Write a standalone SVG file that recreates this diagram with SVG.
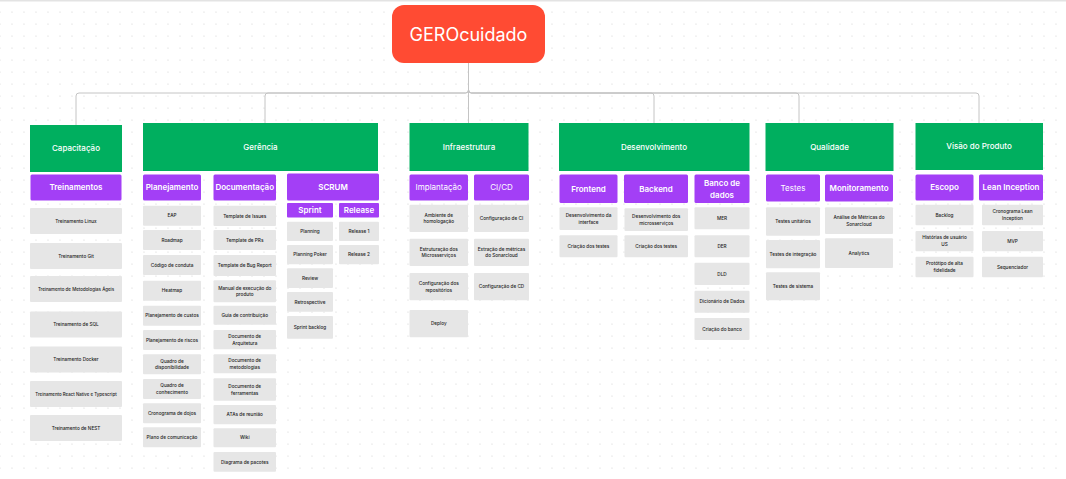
<svg xmlns="http://www.w3.org/2000/svg" width="1066" height="479" viewBox="0 0 1066 479">
<style>
text{font-family:Inter,"Noto Sans","Liberation Sans",sans-serif;text-anchor:middle}
.root{fill:#FF4B33}
.g{fill:#00AF5F}
.p{fill:#A33FF6}
.i{fill:#E6E6E6}
.tr{font-size:18px;fill:#fff;font-weight:400}
.tg{font-size:8px;fill:#fff;font-weight:500}
.tp{font-size:8px;fill:#fff;font-weight:600}
.tp4{font-size:8px;fill:#fff;font-weight:400}
.ti{font-size:4.7px;fill:#222;font-weight:500}
.c{fill:none;stroke:#c4c4c4;stroke-width:1}
</style>
<defs>
<pattern id="dots" x="-6" y="-6" width="12" height="12" patternUnits="userSpaceOnUse">
<circle cx="6" cy="6" r="0.6" fill="#cfcfcf"/>
</pattern>
</defs>
<rect width="1066" height="479" fill="#fff"/>
<rect width="1066" height="479" fill="url(#dots)"/>
<rect width="1066" height="1.5" fill="#e3e3e3"/>

<g id="connectors">
<path class="c" d="M468.5,63 V123"/>
<path class="c" d="M468.5,63 V90 Q468.5,93 465.5,93 H79 Q76,93 76,96 V125"/>
<path class="c" d="M468.5,63 V90 Q468.5,93 465.5,93 H268 Q265,93 265,96 V123"/>
<path class="c" d="M468.5,63 V90 Q468.5,93 471.5,93 H651 Q654,93 654,96 V123"/>
<path class="c" d="M468.5,63 V90 Q468.5,93 471.5,93 H796 Q799,93 799,96 V123"/>
<path class="c" d="M468.5,63 V90 Q468.5,93 471.5,93 H976 Q979,93 979,96 V123"/>
</g>

<g id="root"><rect class="root" x="392" y="5" width="153" height="58" rx="12"/><text class="tr" x="468.5" y="40.5">GEROcuidado</text></g>

<!-- Capacitação -->
<g id="capacitacao"><rect class="g" x="30" y="125" width="92" height="47"/><text class="tg" x="76" y="151.3">Capacitação</text></g>
<g id="treinamentos"><rect class="p" x="30.5" y="174.5" width="91" height="26" rx="1.5"/><text class="tp" x="76" y="190.3">Treinamentos</text></g>
<g id="cap-1"><rect class="i" x="30" y="208" width="92" height="26" rx="1"/><text class="ti" x="76" y="222.65">Treinamento Linux</text></g>
<g id="cap-2"><rect class="i" x="30" y="243" width="92" height="26" rx="1"/><text class="ti" x="76" y="257.65">Treinamento Git</text></g>
<g id="cap-3"><rect class="i" x="30" y="276" width="92" height="26" rx="1"/><text class="ti" x="76" y="290.65" style="font-size:4.45px">Treinamento de Metodologias Ágeis</text></g>
<g id="cap-4"><rect class="i" x="30" y="311.5" width="92" height="26" rx="1"/><text class="ti" x="76" y="326.15">Treinamento de SQL</text></g>
<g id="cap-5"><rect class="i" x="30" y="346.5" width="92" height="26" rx="1"/><text class="ti" x="76" y="361.15">Treinamento Docker</text></g>
<g id="cap-6"><rect class="i" x="30" y="381" width="92" height="26" rx="1"/><text class="ti" x="76" y="395.65" style="font-size:4.4px">Treinamento React Native e Typescript</text></g>
<g id="cap-7"><rect class="i" x="30" y="415" width="92" height="26" rx="1"/><text class="ti" x="76" y="429.65">Treinamento de NEST</text></g>

<!-- Gerência -->
<g id="gerencia"><rect class="g" x="143" y="123" width="235" height="48"/><text class="tg" x="260.5" y="149.8">Gerência</text></g>
<g id="planejamento"><rect class="p" x="143" y="174.5" width="58" height="26" rx="1.5"/><text class="tp" x="172" y="190.3">Planejamento</text></g>
<g id="pl-1"><rect class="i" x="143" y="205.7" width="58" height="20" rx="1"/><text class="ti" x="172" y="217.35">EAP</text></g>
<g id="pl-2"><rect class="i" x="143" y="230" width="58" height="20" rx="1"/><text class="ti" x="172" y="241.65">Roadmap</text></g>
<g id="pl-3"><rect class="i" x="143" y="255" width="58" height="20" rx="1"/><text class="ti" x="172" y="266.65">Código de conduta</text></g>
<g id="pl-4"><rect class="i" x="143" y="280.7" width="58" height="20" rx="1"/><text class="ti" x="172" y="292.35">Heatmap</text></g>
<g id="pl-5"><rect class="i" x="143" y="305.7" width="58" height="20" rx="1"/><text class="ti" x="172" y="317.35">Planejamento de custos</text></g>
<g id="pl-6"><rect class="i" x="143" y="330" width="58" height="20" rx="1"/><text class="ti" x="172" y="341.65">Planejamento de riscos</text></g>
<g id="pl-7"><rect class="i" x="143" y="354.3" width="58" height="20" rx="1"/><text class="ti" x="172" y="362.6">Quadro de<tspan x="172" y="369.3">disponibilidade</tspan></text></g>
<g id="pl-8"><rect class="i" x="143" y="379" width="58" height="20" rx="1"/><text class="ti" x="172" y="387.3">Quadro de<tspan x="172" y="394">conhecimento</tspan></text></g>
<g id="pl-9"><rect class="i" x="143" y="403.3" width="58" height="20" rx="1"/><text class="ti" x="172" y="414.95">Cronograma de dojos</text></g>
<g id="pl-10"><rect class="i" x="143" y="427.3" width="58" height="20" rx="1"/><text class="ti" x="172" y="438.95">Plano de comunicação</text></g>

<g id="documentacao"><rect class="p" x="213.5" y="174.5" width="62.5" height="26" rx="1.5"/><text class="tp" x="244.75" y="190.3">Documentação</text></g>
<g id="doc-1"><rect class="i" x="213.5" y="205.7" width="62.5" height="20.3" rx="1"/><text class="ti" x="244.75" y="217.5">Template de Issues</text></g>
<g id="doc-2"><rect class="i" x="213.5" y="230" width="62.5" height="20" rx="1"/><text class="ti" x="244.75" y="241.65">Template de PRs</text></g>
<g id="doc-3"><rect class="i" x="213.5" y="255" width="62.5" height="21" rx="1"/><text class="ti" x="244.75" y="267.15">Template de Bug Report</text></g>
<g id="doc-4"><rect class="i" x="213.5" y="280.3" width="62.5" height="22" rx="1"/><text class="ti" x="244.75" y="289.6">Manual de execução do<tspan x="244.75" y="296.3">produto</tspan></text></g>
<g id="doc-5"><rect class="i" x="213.5" y="305.7" width="62.5" height="19" rx="1"/><text class="ti" x="244.75" y="316.85">Guia de contribuição</text></g>
<g id="doc-6"><rect class="i" x="213.5" y="330" width="62.5" height="19.3" rx="1"/><text class="ti" x="244.75" y="337.95">Documento de<tspan x="244.75" y="344.65">Arquitetura</tspan></text></g>
<g id="doc-7"><rect class="i" x="213.5" y="354.3" width="62.5" height="19" rx="1"/><text class="ti" x="244.75" y="362.1">Documento de<tspan x="244.75" y="368.8">metodologias</tspan></text></g>
<g id="doc-8"><rect class="i" x="213.5" y="378.3" width="62.5" height="22.4" rx="1"/><text class="ti" x="244.75" y="387.8">Documento de<tspan x="244.75" y="394.5">ferramentas</tspan></text></g>
<g id="doc-9"><rect class="i" x="213.5" y="405" width="62.5" height="19.3" rx="1"/><text class="ti" x="244.75" y="416.3">ATAs de reunião</text></g>
<g id="doc-10"><rect class="i" x="213.5" y="428.3" width="62.5" height="19" rx="1"/><text class="ti" x="244.75" y="439.45">Wiki</text></g>
<g id="doc-11"><rect class="i" x="213.5" y="452" width="62.5" height="19.7" rx="1"/><text class="ti" x="244.75" y="463.5">Diagrama de pacotes</text></g>

<g id="scrum"><rect class="p" x="287" y="173.5" width="92" height="27" rx="1.5"/><text class="tp" x="333" y="189.8">SCRUM</text></g>
<g id="sprint"><rect class="p" x="287" y="203" width="46" height="14.5" rx="1"/><text class="tp" x="310" y="213">Sprint</text></g>
<g id="release"><rect class="p" x="339" y="203" width="40" height="14.5" rx="1"/><text class="tp" x="359" y="213">Release</text></g>
<g id="sp-1"><rect class="i" x="287" y="221.7" width="46" height="19.3" rx="1"/><text class="ti" x="310" y="233">Planning</text></g>
<g id="sp-2"><rect class="i" x="287" y="245" width="46" height="19.3" rx="1"/><text class="ti" x="310" y="256.3">Planning Poker</text></g>
<g id="sp-3"><rect class="i" x="287" y="268.3" width="46" height="19.7" rx="1"/><text class="ti" x="310" y="279.8">Review</text></g>
<g id="sp-4"><rect class="i" x="287" y="292" width="46" height="19.7" rx="1"/><text class="ti" x="310" y="303.5">Retrospective</text></g>
<g id="sp-5"><rect class="i" x="287" y="316" width="46" height="22.7" rx="1"/><text class="ti" x="310" y="329">Sprint backlog</text></g>
<g id="rel-1"><rect class="i" x="339" y="221.7" width="40" height="19.3" rx="1"/><text class="ti" x="359" y="233">Release 1</text></g>
<g id="rel-2"><rect class="i" x="339" y="245" width="40" height="19.3" rx="1"/><text class="ti" x="359" y="256.3">Release 2</text></g>

<!-- Infraestrutura -->
<g id="infraestrutura"><rect class="g" x="409.5" y="123" width="119" height="48"/><text class="tg" x="469" y="149.8">Infraestrutura</text></g>
<g id="implantacao"><rect class="p" x="409.5" y="174.5" width="58.5" height="26" rx="1.5"/><text class="tp4" x="438.75" y="190.3">Implantação</text></g>
<g id="cicd"><rect class="p" x="474" y="174.5" width="55" height="26" rx="1.5"/><text class="tp4" x="501.5" y="190.3">CI/CD</text></g>
<g id="imp-1"><rect class="i" x="409.5" y="204.7" width="58.5" height="27.3" rx="1"/><text class="ti" x="438.75" y="216.65">Ambiente de<tspan x="438.75" y="223.35">homologação</tspan></text></g>
<g id="imp-2"><rect class="i" x="409.5" y="238.7" width="58.5" height="27.3" rx="1"/><text class="ti" x="438.75" y="250.65">Estruturação dos<tspan x="438.75" y="257.35">Microsserviços</tspan></text></g>
<g id="imp-3"><rect class="i" x="409.5" y="273" width="58.5" height="27.3" rx="1"/><text class="ti" x="438.75" y="284.95">Configuração dos<tspan x="438.75" y="291.65">repositórios</tspan></text></g>
<g id="imp-4"><rect class="i" x="409.5" y="310" width="58.5" height="27.3" rx="1"/><text class="ti" x="438.75" y="325.3">Deploy</text></g>
<g id="ci-1"><rect class="i" x="474" y="204.7" width="55" height="27.3" rx="1"/><text class="ti" x="501.5" y="220">Configuração de CI</text></g>
<g id="ci-2"><rect class="i" x="474" y="238.7" width="55" height="27.3" rx="1"/><text class="ti" x="501.5" y="250.65">Extração de métricas<tspan x="501.5" y="257.35">do Sonarcloud</tspan></text></g>
<g id="ci-3"><rect class="i" x="474" y="273" width="55" height="27.3" rx="1"/><text class="ti" x="501.5" y="288.3">Configuração de CD</text></g>

<!-- Desenvolvimento -->
<g id="desenvolvimento"><rect class="g" x="559" y="123" width="190.5" height="48"/><text class="tg" x="654" y="149.8">Desenvolvimento</text></g>
<g id="frontend"><rect class="p" x="559.5" y="174.5" width="58" height="28.5" rx="1.5"/><text class="tp" x="588.5" y="191.5">Frontend</text></g>
<g id="backend"><rect class="p" x="624" y="174.5" width="64" height="28.5" rx="1.5"/><text class="tp" x="656" y="191.5">Backend</text></g>
<g id="banco"><rect class="p" x="694.5" y="174.5" width="55" height="28.5" rx="1.5"/><text class="tp" x="722" y="186.1">Banco de<tspan x="722" y="197.8">dados</tspan></text></g>
<g id="fe-1"><rect class="i" x="559.5" y="207.3" width="58" height="22.7" rx="1"/><text class="ti" x="588.5" y="216.95">Desenvolvimento da<tspan x="588.5" y="223.65">interface</tspan></text></g>
<g id="fe-2"><rect class="i" x="559.5" y="235.3" width="58" height="22" rx="1"/><text class="ti" x="588.5" y="247.95">Criação dos testes</text></g>
<g id="be-1"><rect class="i" x="624.5" y="208.3" width="63.5" height="22.7" rx="1"/><text class="ti" x="656.25" y="217.95">Desenvolvimento dos<tspan x="656.25" y="224.65">microsserviços</tspan></text></g>
<g id="be-2"><rect class="i" x="624.5" y="235.3" width="63.5" height="22" rx="1"/><text class="ti" x="656.25" y="247.95">Criação dos testes</text></g>
<g id="db-1"><rect class="i" x="694.5" y="207.3" width="55" height="22" rx="1"/><text class="ti" x="722" y="219.95">MER</text></g>
<g id="db-2"><rect class="i" x="694.5" y="235.3" width="55" height="22" rx="1"/><text class="ti" x="722" y="247.95">DER</text></g>
<g id="db-3"><rect class="i" x="694.5" y="262.7" width="55" height="22.3" rx="1"/><text class="ti" x="722" y="275.5">DLD</text></g>
<g id="db-4"><rect class="i" x="694.5" y="290.7" width="55" height="22" rx="1"/><text class="ti" x="722" y="303.35">Dicionário de Dados</text></g>
<g id="db-5"><rect class="i" x="694.5" y="318" width="55" height="22" rx="1"/><text class="ti" x="722" y="330.65">Criação do banco</text></g>

<!-- Qualidade -->
<g id="qualidade"><rect class="g" x="765.5" y="123" width="128" height="48"/><text class="tg" x="829.5" y="149.8">Qualidade</text></g>
<g id="testes"><rect class="p" x="766" y="174.5" width="54" height="27" rx="1.5"/><text class="tp4" x="793" y="190.8">Testes</text></g>
<g id="monitoramento"><rect class="p" x="825" y="174.5" width="68" height="27" rx="1.5"/><text class="tp" x="859" y="190.8">Monitoramento</text></g>
<g id="te-1"><rect class="i" x="766" y="207.3" width="54" height="28.4" rx="1"/><text class="ti" x="793" y="223.15">Testes unitários</text></g>
<g id="te-2"><rect class="i" x="766" y="240" width="54" height="28.3" rx="1"/><text class="ti" x="793" y="255.8">Testes de integração</text></g>
<g id="te-3"><rect class="i" x="766" y="272.3" width="54" height="28" rx="1"/><text class="ti" x="793" y="287.95">Testes de sistema</text></g>
<g id="mo-1"><rect class="i" x="825" y="207.3" width="68" height="26.7" rx="1"/><text class="ti" x="859" y="218.95">Análise de Métricas do<tspan x="859" y="225.65">Sonarcloud</tspan></text></g>
<g id="mo-2"><rect class="i" x="825" y="238.3" width="68" height="29.7" rx="1"/><text class="ti" x="859" y="254.8">Analytics</text></g>

<!-- Visão do Produto -->
<g id="visao"><rect class="g" x="915.5" y="123" width="127.5" height="47"/><text class="tg" x="979" y="149.3">Visão do Produto</text></g>
<g id="escopo"><rect class="p" x="915.5" y="174.5" width="58" height="26" rx="1.5"/><text class="tp" x="944.5" y="190.3">Escopo</text></g>
<g id="lean"><rect class="p" x="979" y="174.5" width="64" height="26" rx="1.5"/><text class="tp" x="1011" y="190.3">Lean Inception</text></g>
<g id="es-1"><rect class="i" x="915.5" y="204.7" width="58" height="20.6" rx="1"/><text class="ti" x="944.5" y="216.65">Backlog</text></g>
<g id="es-2"><rect class="i" x="915.5" y="231" width="58" height="20.3" rx="1"/><text class="ti" x="944.5" y="239.45">Histórias de usuário<tspan x="944.5" y="246.15">US</tspan></text></g>
<g id="es-3"><rect class="i" x="915.5" y="256.7" width="58" height="20.6" rx="1"/><text class="ti" x="944.5" y="265.3">Protótipo de alta<tspan x="944.5" y="272">fidelidade</tspan></text></g>
<g id="li-1"><rect class="i" x="982" y="204.7" width="61" height="20.6" rx="1"/><text class="ti" x="1012.5" y="213.3">Cronograma Lean<tspan x="1012.5" y="220">Inception</tspan></text></g>
<g id="li-2"><rect class="i" x="982" y="231" width="61" height="20.3" rx="1"/><text class="ti" x="1012.5" y="242.8">MVP</text></g>
<g id="li-3"><rect class="i" x="982" y="256.7" width="61" height="20.6" rx="1"/><text class="ti" x="1012.5" y="268.65">Sequenciador</text></g>
</svg>
